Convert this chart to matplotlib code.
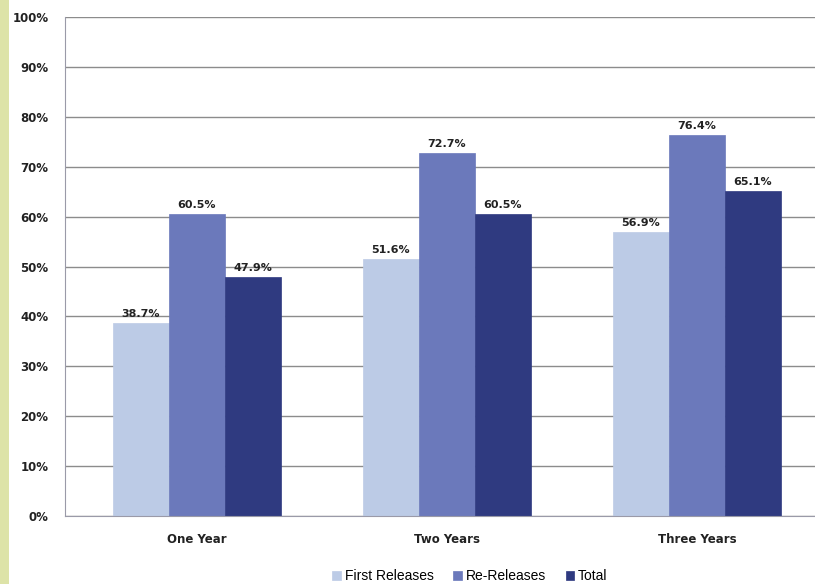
import matplotlib
matplotlib.use("Agg")
import matplotlib.pyplot as plt
from matplotlib.patches import Rectangle
import numpy as np

categories = ["One Year", "Two Years", "Three Years"]
series_names = ["First Releases", "Re-Releases", "Total"]
first_releases = [38.7, 51.6, 56.9]
re_releases = [60.5, 72.7, 76.4]
total = [47.9, 60.5, 65.1]
y_ticks = [0, 10, 20, 30, 40, 50, 60, 70, 80, 90, 100]

colors = ["#bccbe6", "#6b79bb", "#2f3a80"]

fig = plt.figure(figsize=(8.15, 5.84), dpi=100)
fig.patch.set_facecolor("white")
# tinted strip down the left edge
fig.patches.append(Rectangle((0, 0), 9 / 815, 1, transform=fig.transFigure,
                             facecolor="#dde3a8", edgecolor="none", zorder=0))

ax = fig.add_axes([65 / 815, 68 / 584, 1 - 65 / 815, 499 / 584])

x = np.arange(len(categories))
width = 0.224
for i, (name, vals) in enumerate(zip(series_names, [first_releases, re_releases, total])):
    pos = x + (i - 1) * width
    ax.bar(pos, vals, width=width, color=colors[i], label=name, zorder=2,
           edgecolor=colors[i], linewidth=0.5)
    for px, v in zip(pos, vals):
        ax.text(px, v + 0.8, f"{v:.1f}%", ha="center", va="bottom",
                fontsize=8, fontweight="bold", color="#222222", zorder=3)

ax.set_xlim(-0.528, 2.472)
ax.set_ylim(0, 100)
ax.set_yticks(y_ticks)
ax.set_yticklabels([f"{t}%" for t in y_ticks], fontsize=8.5, fontweight="bold", color="#222222")
ax.set_xticks(x)
ax.set_xticklabels(categories, fontsize=8.5, fontweight="bold", color="#222222")
ax.tick_params(axis="both", length=0)
ax.tick_params(axis="y", pad=12)
ax.tick_params(axis="x", pad=12)
ax.yaxis.grid(True, color="#8c8c8c", linewidth=1.0, zorder=0)
ax.set_axisbelow(True)
for side in ["top", "right"]:
    ax.spines[side].set_visible(False)
ax.spines["left"].set_color("#9a9aa8")
ax.spines["bottom"].set_color("#9a9aa8")

fig.legend(loc="center", bbox_to_anchor=(470 / 815, 8 / 584), ncol=3, frameon=False,
           handlelength=0.6, handleheight=0.6, handletextpad=0.3, columnspacing=1.4,
           prop={"family": "Liberation Sans", "size": 10})

fig.savefig("out.png", dpi=100)
